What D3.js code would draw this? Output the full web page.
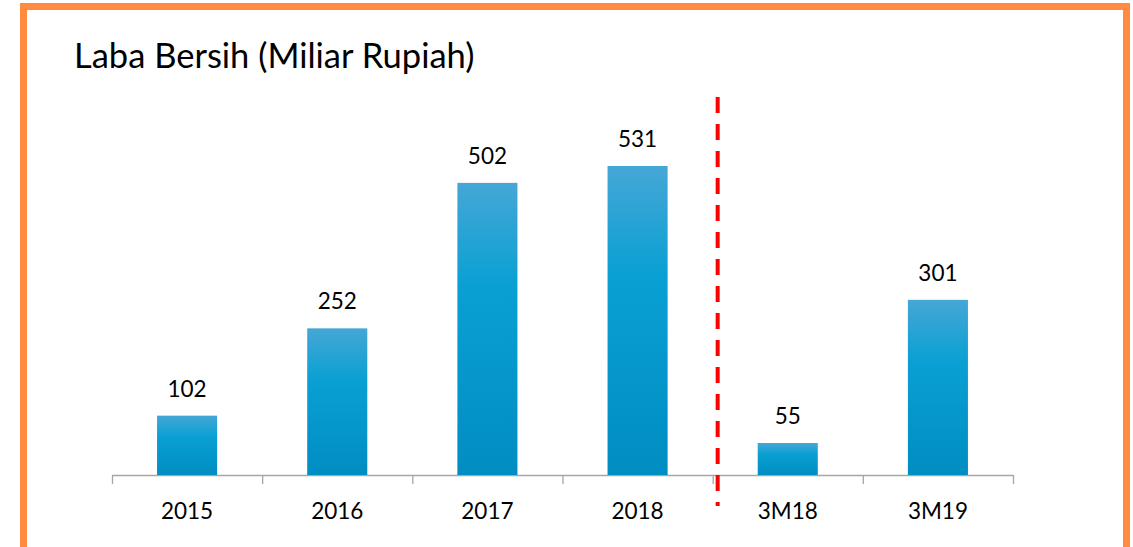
<!DOCTYPE html>
<html>
<head>
<meta charset="utf-8">
<script src="https://cdn.jsdelivr.net/npm/d3@7"></script>
<style>
  body { margin: 0; background: #fff; }
  svg { display: block; font-family: Lato, "Open Sans", sans-serif; }
</style>
</head>
<body>
<div id="chart"></div>
<script>
const categories = ['2015', '2016', '2017', '2018', '3M18', '3M19']
const values = [102, 252, 502, 531, 55, 301]
const title = 'Laba Bersih (Miliar Rupiah)'
const dividerAfter = '2018'

const width = 1133, height = 547
const margin = {left: 112, right: 120, top: 166, bottom: 72}

const svg = d3.select('#chart').append('svg')
  .attr('width', width)
  .attr('height', height)

// orange frame
svg.append('rect')
  .attr('x', 23.5).attr('y', 6.5)
  .attr('width', 1103).attr('height', 600)
  .attr('fill', 'none')
  .attr('stroke', '#FF8A40')
  .attr('stroke-width', 7)

svg.append('text')
  .attr('x', 74).attr('y', 68)
  .attr('font-size', 34.5)
  .attr('fill', '#000')
  .text(title)

const defs = svg.append('defs')
const grad = defs.append('linearGradient')
  .attr('id', 'barGrad')
  .attr('x1', 0).attr('y1', 0).attr('x2', 0).attr('y2', 1)
grad.append('stop').attr('offset', '0%').attr('stop-color', '#45A7D6')
grad.append('stop').attr('offset', '35%').attr('stop-color', '#0AA0D3')
grad.append('stop').attr('offset', '100%').attr('stop-color', '#008DC2')

const x = d3.scaleBand()
  .domain(categories)
  .range([margin.left, 1013])
  .paddingInner(0.6)
  .paddingOuter(0.3)

const y = d3.scaleLinear()
  .domain([0, 531])
  .range([height - margin.bottom, margin.top])

const baseY = height - margin.bottom

// axis line with ticks between categories
const step = x.step()
const bounds = d3.range(categories.length + 1).map(i => margin.left + i * step)
svg.append('line')
  .attr('x1', bounds[0]).attr('x2', bounds[bounds.length - 1])
  .attr('y1', baseY + 0.5).attr('y2', baseY + 0.5)
  .attr('stroke', '#A6A6A6').attr('stroke-width', 1.3)
svg.append('g').selectAll('line')
  .data(bounds)
  .enter().append('line')
  .attr('x1', d => d + 0.5).attr('x2', d => d + 0.5)
  .attr('y1', baseY).attr('y2', baseY + 9)
  .attr('stroke', '#A6A6A6').attr('stroke-width', 1.3)

svg.append('g').selectAll('rect')
  .data(categories)
  .enter().append('rect')
  .attr('x', d => x(d))
  .attr('y', (d, i) => y(values[i]))
  .attr('width', x.bandwidth())
  .attr('height', (d, i) => baseY - y(values[i]))
  .attr('fill', 'url(#barGrad)')

svg.append('g').selectAll('text')
  .data(categories)
  .enter().append('text')
  .attr('x', d => x(d) + x.bandwidth() / 2)
  .attr('y', (d, i) => y(values[i]) - 19)
  .attr('text-anchor', 'middle')
  .attr('font-size', 22.5)
  .attr('fill', '#000')
  .text((d, i) => values[i])

svg.append('g').selectAll('text')
  .data(categories)
  .enter().append('text')
  .attr('x', d => x(d) + x.bandwidth() / 2)
  .attr('y', baseY + 44)
  .attr('text-anchor', 'middle')
  .attr('font-size', 22.5)
  .attr('fill', '#000')
  .text(d => d)

// dashed divider between full-year and quarter figures
const divX = bounds[categories.indexOf(dividerAfter) + 1] + 5
svg.append('line')
  .attr('x1', divX).attr('x2', divX)
  .attr('y1', 97).attr('y2', 506)
  .attr('stroke', '#FF0000')
  .attr('stroke-width', 4)
  .attr('stroke-dasharray', '16 11')
</script>
</body>
</html>
